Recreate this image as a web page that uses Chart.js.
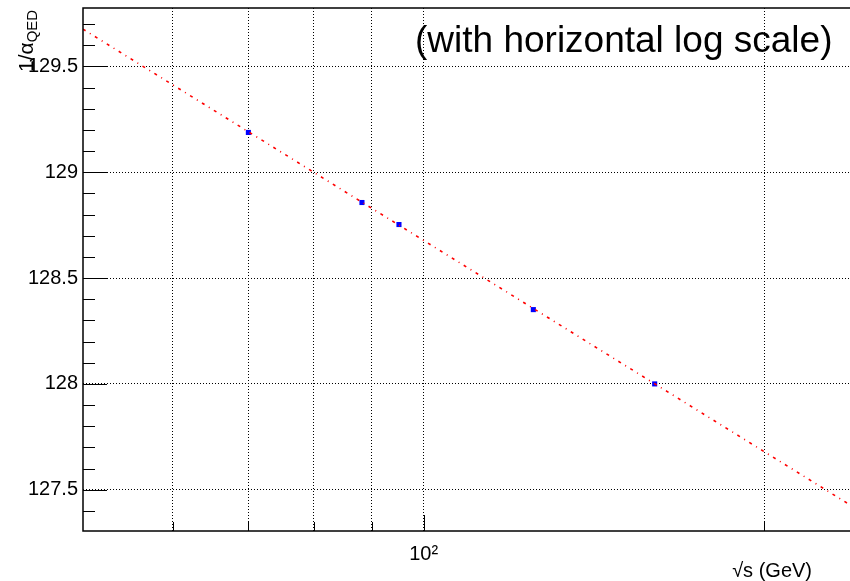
<!DOCTYPE html>
<html>
<head>
<meta charset="utf-8">
<title>1/alpha_QED running</title>
<script src="https://cdn.jsdelivr.net/npm/chart.js@4/dist/chart.umd.min.js"></script>
<style>
  html, body { margin: 0; padding: 0; background: #fff; overflow: hidden; }
  #wrap { width: 850px; height: 581px; overflow: hidden; }
  canvas { display: block; }
</style>
</head>
<body>
<div id="wrap"><canvas id="c" width="880" height="581"></canvas></div>
<script>
// Measured points: centre-of-mass energy (GeV) and 1/alpha_QED
const energies = [70, 88.2, 95.1, 125, 160];
const invAlpha = [129.188, 128.857, 128.753, 128.351, 128.0];

// Straight-line fit in log(sqrt(s)), given by its two ends over the axis range
const fitEnergies = [50, 250];
const fitInvAlpha = [129.676, 127.358];

// Axis ranges and ticks
const xRange = [50, 250];
const yRange = [127.305, 129.776];
const xTicks = [60, 70, 80, 90, 100, 200];
const xTickLabels = ['', '', '', '', '10\u00B2', ''];
const yMajorTicks = [127.5, 128, 128.5, 129, 129.5];
const yTickLabels = ['127.5', '128', '128.5', '129', '129.5'];
const yMinorTicks = [127.4, 127.6, 127.7, 127.8, 127.9, 128.1, 128.2, 128.3, 128.4,
                     128.6, 128.7, 128.8, 128.9, 129.1, 129.2, 129.3, 129.4, 129.6, 129.7];

const FONT = '"Liberation Sans", Arial, Helvetica, sans-serif';
Chart.defaults.font.family = FONT;
Chart.defaults.color = '#000';

// Frame, inward tick marks and the text annotations
const frameAndText = {
  id: 'frameAndText',
  afterDraw(chart) {
    const { ctx, chartArea: a, scales: { x, y } } = chart;
    ctx.save();
    ctx.setLineDash([]);
    ctx.strokeStyle = '#000';
    ctx.lineWidth = 1;
    const seg = (x1, y1, x2, y2) => {
      ctx.beginPath(); ctx.moveTo(x1, y1); ctx.lineTo(x2, y2); ctx.stroke();
    };
    yMajorTicks.forEach(v => {
      const py = Math.round(y.getPixelForValue(v)) + 0.5;
      seg(a.left, py, a.left + 24, py);
    });
    yMinorTicks.forEach(v => {
      const py = Math.round(y.getPixelForValue(v)) + 0.5;
      seg(a.left, py, a.left + 12, py);
    });
    xTicks.forEach(v => {
      const px = Math.round(x.getPixelForValue(v)) + 0.5;
      seg(px, a.bottom, px, a.bottom - (v === 100 ? 16 : 9));
    });

    ctx.lineWidth = 1.5;
    ctx.strokeRect(a.left, a.top, a.right - a.left, a.bottom - a.top);

    ctx.fillStyle = '#000';
    ctx.textBaseline = 'alphabetic';

    // annotation in the upper right
    ctx.font = '37px ' + FONT;
    ctx.textAlign = 'left';
    ctx.fillText('(with horizontal log scale)', 415, 52);

    // x-axis title
    ctx.font = '20px ' + FONT;
    ctx.textAlign = 'right';
    ctx.fillText('\u221As (GeV)', 812, 577);

    // y-axis title, rotated, ending at the top of the axis
    ctx.save();
    ctx.translate(33, 72);
    ctx.rotate(-Math.PI / 2);
    ctx.textAlign = 'left';
    ctx.font = '21px ' + FONT;
    const main = '1/\u03B1';
    ctx.fillText(main, 0, 0);
    const w = ctx.measureText(main).width;
    ctx.font = '15px ' + FONT;
    ctx.fillText('QED', w, 4);
    ctx.restore();

    ctx.restore();
  }
};

new Chart(document.getElementById('c'), {
  type: 'scatter',
  data: {
    datasets: [
      {
        type: 'line',
        data: fitEnergies.map((e, i) => ({ x: e, y: fitInvAlpha[i] })),
        borderColor: '#ff0000',
        borderWidth: 1.6,
        borderDash: [3, 5, 1, 5],
        pointRadius: 0,
        fill: false,
        tension: 0
      },
      {
        data: energies.map((e, i) => ({ x: e, y: invAlpha[i] })),
        pointStyle: 'rect',
        pointRadius: 3.6,
        backgroundColor: '#0000ff',
        borderWidth: 0
      }
    ]
  },
  options: {
    responsive: false,
    animation: false,
    layout: { padding: { top: 8, right: 6, bottom: 0, left: 0 } },
    plugins: { legend: { display: false }, tooltip: { enabled: false } },
    scales: {
      x: {
        type: 'logarithmic',
        min: xRange[0],
        max: xRange[1],
        afterBuildTicks: s => { s.ticks = xTicks.map(v => ({ value: v })); },
        afterFit: s => { s.height = 50; s.paddingLeft = 0; s.paddingRight = 0; },
        ticks: {
          autoSkip: false, maxRotation: 0, minRotation: 0, padding: 11,
          font: { size: 20 }, color: '#000',
          callback: (v, i) => xTickLabels[i]
        },
        grid: { color: '#000', lineWidth: 1, drawTicks: false },
        border: { display: false, dash: [1, 2] }
      },
      y: {
        min: yRange[0],
        max: yRange[1],
        afterBuildTicks: s => { s.ticks = yMajorTicks.map(v => ({ value: v })); },
        afterFit: s => { s.width = 83; s.paddingTop = 0; s.paddingBottom = 0; },
        ticks: {
          autoSkip: false, padding: 5,
          font: { size: 20 }, color: '#000',
          callback: (v, i) => yTickLabels[i]
        },
        grid: { color: '#000', lineWidth: 1, drawTicks: false },
        border: { display: false, dash: [1, 2] }
      }
    }
  },
  plugins: [frameAndText]
});
</script>
</body>
</html>
